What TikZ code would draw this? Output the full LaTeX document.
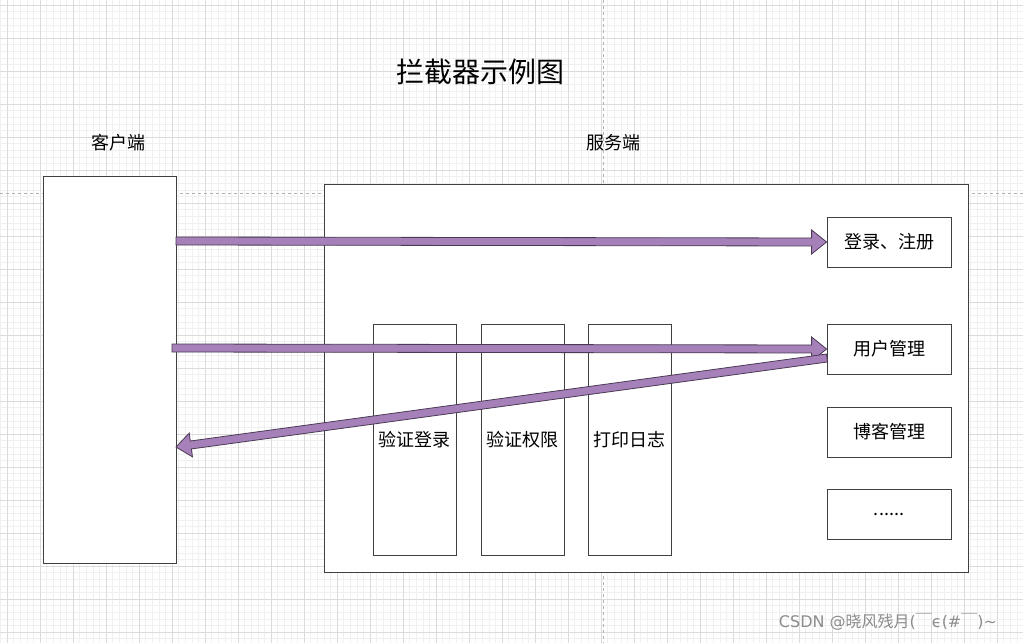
\documentclass[tikz,border=0pt]{standalone}
\usepackage{fontspec}
\newfontfamily\cjk{Noto Sans CJK SC}
\newfontfamily\dvsans{DejaVu Sans}
\usetikzlibrary{calc}
\definecolor{pur}{HTML}{A680B8}
\definecolor{pdk}{HTML}{4A3A55}
\tikzset{box/.style={draw=black!75,fill=white,line width=0.8pt},
 lab/.style={font=\cjk\fontsize{18}{20}\selectfont}}
\newcommand{\fatarr}[2]{%
 \coordinate (hh) at ($(#2)!15pt!(#1)$);
 \filldraw[fill=pur,draw=pdk,line width=0.8pt]
 ($(#1)!4pt!90:(#2)$) -- ($(hh)!4pt!-90:(#1)$) -- ($(hh)!12pt!-90:(#1)$) -- (#2)
 -- ($(hh)!12pt!90:(#1)$) -- ($(hh)!4pt!90:(#1)$) -- ($(#1)!4pt!-90:(#2)$) -- cycle;}
\begin{document}
\begin{tikzpicture}[x=1pt,y=-1pt]
\useasboundingbox (0,0) rectangle (1023,643);
\fill[white] (0,0) rectangle (1023,643);
\foreach \i in {0,...,155}{\draw[black!6,line width=0.5pt] (0.4+6.6*\i,0) -- (0.4+6.6*\i,643);}
\foreach \i in {0,...,98}{\draw[black!6,line width=0.5pt] (0,5+6.6*\i) -- (1023,5+6.6*\i);}
\foreach \i in {0,...,31}{\draw[black!14,line width=0.6pt] (7+33*\i,0) -- (7+33*\i,643);}
\foreach \i in {0,...,19}{\draw[black!14,line width=0.6pt] (0,5+33*\i) -- (1023,5+33*\i);}
\draw[black!30,dashed,line width=0.8pt] (603,0) -- (603,643) (0,193) -- (1023,193);
\node[font=\cjk\fontsize{28}{30}\selectfont] (title) at (480,72) {拦截器示例图};
\node[lab] (ct) at (118,143) {客户端};
\node[lab] (st) at (613,143) {服务端};
\draw[box] (43,176) rectangle (176,563);
\coordinate (cl1) at (176,241); \coordinate (cl2) at (172,348); \coordinate (cl3) at (176,447);
\draw[box] (324,184) rectangle (968,572);
\foreach \n/\x/\t in {c1/373/验证登录,c2/481/验证权限,c3/588/打印日志}{
 \draw[box] (\x,324) rectangle (\x+83,555);
 \node[lab] (\n) at (\x+41.5,440) {\t};}
\node[box,lab,minimum width=124pt,minimum height=50pt] (b1) at (889,242) {登录、注册};
\node[box,lab,minimum width=124pt,minimum height=50pt] (b2) at (889,349) {用户管理};
\node[box,lab,minimum width=124pt,minimum height=50pt] (b3) at (889,432) {博客管理};
\node[box,lab,minimum width=124pt,minimum height=50pt] (b4) at (889,514) {......};
\fatarr{cl1}{b1.west}
\fatarr{cl2}{b2.west}
\coordinate (s3) at (827,358);
\fatarr{s3}{cl3}
\node[font=\dvsans\fontsize{16}{18}\selectfont,text=black!45,inner sep=0pt] (wm) at (888,622) {CSDN @{\cjk 晓风残月}({\cjk ￣}ϵ(\#{\cjk ￣})\textasciitilde};
\end{tikzpicture}
\end{document}
